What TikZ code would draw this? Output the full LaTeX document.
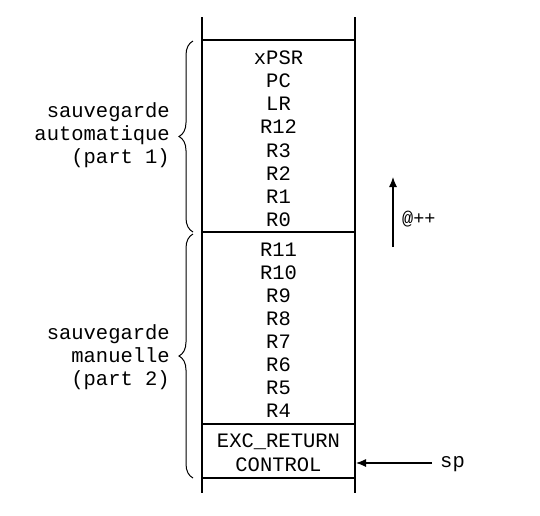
\documentclass[tikz,border=0pt]{standalone}
\usepackage{fontspec}
\setmainfont{Liberation Mono}
\usetikzlibrary{decorations.pathreplacing,arrows.meta}
\begin{document}
\begin{tikzpicture}[x=1pt,y=-1pt,
  reg/.style={anchor=base,inner sep=0pt,font=\fontsize{20.5}{23.5}\selectfont},
  lbl/.style={anchor=east,align=right,inner sep=0pt,font=\fontsize{20.5}{23.3}\selectfont},
  wall/.style={line width=1.1pt},
  bracestyle/.style={line width=1pt,decorate,decoration={brace,amplitude=14pt,aspect=0.5}},
  arr/.style={line width=1.1pt,-{Latex[length=10pt,width=8pt]}}]
\useasboundingbox (0,0) rectangle (540,515);
% walls
\coordinate (lt) at (202,17);
\coordinate (lb) at (202,493);
\coordinate (rt) at (355,17);
\coordinate (rb) at (355,493);
\draw[wall] (lt) -- (lb);
\draw[wall] (rt) -- (rb);
\coordinate (h1l) at (202,40);  \coordinate (h1r) at (355,40);
\coordinate (h2l) at (202,232); \coordinate (h2r) at (355,232);
\coordinate (h3l) at (202,424); \coordinate (h3r) at (355,424);
\coordinate (h4l) at (202,478); \coordinate (h4r) at (355,478);
\draw[wall] (h1l) -- (h1r);
\draw[wall] (h2l) -- (h2r);
\draw[wall] (h3l) -- (h3r);
\draw[wall] (h4l) -- (h4r);
% registers
\node[reg] (xpsr) at (278.5,64) {xPSR};
\node[reg] (pc)   at (278.5,87.5) {PC};
\node[reg] (lr)   at (278.5,110.5) {LR};
\node[reg] (r12)  at (278.5,133.5) {R12};
\node[reg] (r3)   at (278.5,157) {R3};
\node[reg] (r2)   at (278.5,180) {R2};
\node[reg] (r1)   at (278.5,203) {R1};
\node[reg] (r0)   at (278.5,226) {R0};
\node[reg] (r11)  at (278.5,256) {R11};
\node[reg] (r10)  at (278.5,279) {R10};
\node[reg] (r9)   at (278.5,302) {R9};
\node[reg] (r8)   at (278.5,325) {R8};
\node[reg] (r7)   at (278.5,348.5) {R7};
\node[reg] (r6)   at (278.5,371) {R6};
\node[reg] (r5)   at (278.5,394) {R5};
\node[reg] (r4)   at (278.5,417) {R4};
\node[reg] (exc)  at (278.5,447.5) {EXC\_RETURN};
\node[reg] (ctl)  at (278.5,471) {CONTROL};
% braces
\coordinate (b1s) at (193,232);
\coordinate (b1e) at (193,41);
\coordinate (b2s) at (193,478);
\coordinate (b2e) at (193,234);
\draw[bracestyle] (b1s) -- (b1e);
\draw[bracestyle] (b2s) -- (b2e);
\node[lbl] (auto) at (170,135) {sauvegarde\\automatique\\(part 1)};
\node[lbl] (man) at (170,357) {sauvegarde\\manuelle\\(part 2)};
% address arrow
\coordinate (aa) at (393,247);
\coordinate (ab) at (393,177);
\draw[arr] (aa) -- (ab);
\node[anchor=west,inner sep=0pt,font=\fontsize{18.5}{20}\selectfont] (inc) at (402,219) {@++};
% sp arrow
\node[anchor=west,inner sep=0pt,font=\fontsize{20.5}{23.5}\selectfont] (sp) at (440,464) {sp};
\coordinate (spa) at (432,463);
\coordinate (spb) at (356,463);
\draw[arr] (spa) -- (spb);
\end{tikzpicture}
\end{document}
